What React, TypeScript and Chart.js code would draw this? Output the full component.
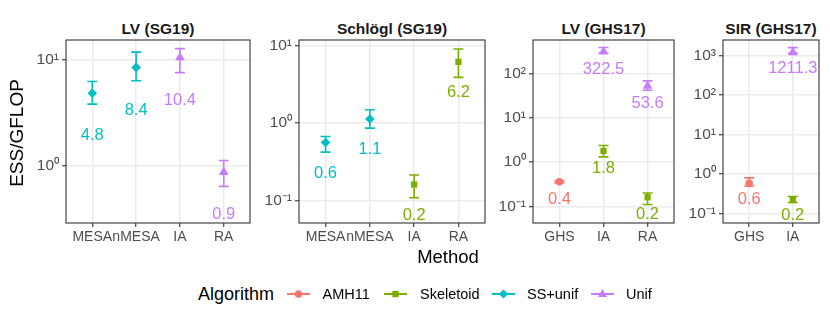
import React, { useEffect, useRef } from "react";
import { Chart, registerables } from "chart.js";
Chart.register(...registerables);

const FONT = '"Liberation Sans", Arial, Helvetica, sans-serif';

// ---------- data ----------
const algorithms = ["AMH11", "Skeletoid", "SS+unif", "Unif"];
const algorithmColors = ["#F8766D", "#7CAE00", "#00BFC4", "#C77CFF"];

// LV (SG19)
const lvSg19Methods = ["MESA", "nMESA", "IA", "RA"];
const lvSg19PointMethod = ["MESA", "nMESA", "IA", "RA"];
const lvSg19PointAlgo = ["SS+unif", "SS+unif", "Unif", "Unif"];
const lvSg19Value = [4.8, 8.4, 10.4, 0.87];
const lvSg19Lo = [3.8, 6.3, 7.5, 0.64];
const lvSg19Hi = [6.2, 11.7, 12.6, 1.12];
const lvSg19YRange = [0.29, 15.2];

// Schlögl (SG19)
const schSg19Methods = ["MESA", "nMESA", "IA", "RA"];
const schSg19PointMethod = ["MESA", "nMESA", "IA", "RA"];
const schSg19PointAlgo = ["SS+unif", "SS+unif", "Skeletoid", "Skeletoid"];
const schSg19Value = [0.56, 1.13, 0.16, 6.2];
const schSg19Lo = [0.42, 0.86, 0.108, 3.9];
const schSg19Hi = [0.67, 1.49, 0.213, 9.1];
const schSg19YRange = [0.0508, 11.9];

// LV (GHS17)
const lvGhs17Methods = ["GHS", "IA", "RA"];
const lvGhs17PointMethod = ["GHS", "IA", "IA", "RA", "RA"];
const lvGhs17PointAlgo = ["AMH11", "Skeletoid", "Unif", "Unif", "Skeletoid"];
const lvGhs17Value = [0.36, 1.8, 322.5, 53.6, 0.16];
const lvGhs17Lo = [0.34, 1.32, 300, 43, 0.11];
const lvGhs17Hi = [0.38, 2.4, 400, 70, 0.2];
const lvGhs17YRange = [0.0417, 593];

// SIR (GHS17)
const sirGhs17Methods = ["GHS", "IA"];
const sirGhs17PointMethod = ["GHS", "IA", "IA"];
const sirGhs17PointAlgo = ["AMH11", "Skeletoid", "Unif"];
const sirGhs17Value = [0.58, 0.22, 1211.3];
const sirGhs17Lo = [0.5, 0.19, 1150];
const sirGhs17Hi = [0.8, 0.27, 1600];
const sirGhs17YRange = [0.0575, 2500];

// ---------- styles ----------
const pointStyles = ["circle", "rect", "rectRot", "triangle"];
const pointRadii = [3.8, 4.4, 4.8, 5.6];

const SUP: Record<string, string> = {
  "-": "\u207B", "0": "\u2070", "1": "\u00B9", "2": "\u00B2", "3": "\u00B3",
  "4": "\u2074", "5": "\u2075", "6": "\u2076", "7": "\u2077", "8": "\u2078", "9": "\u2079",
};
const supText = (n: number) => String(n).split("").map((c) => SUP[c] || c).join("");

const PAD_TOP = 16;
const PAD_RIGHT = 6;
const Y_AXIS_W = 50;
const X_AXIS_H = 30;
const PLOT_TOP = 40;
const PLOT_BOTTOM = 223;

const panelPlugin = {
  id: "panelDecor",
  beforeDatasetsDraw(chart: any) {
    const { ctx } = chart;
    const xs = chart.scales.x;
    const ys = chart.scales.y;
    ctx.save();
    chart.data.datasets.forEach((ds: any) => {
      ctx.strokeStyle = ds.borderColor;
      ctx.lineWidth = 1.6;
      ds.data.forEach((d: any) => {
        const px = xs.getPixelForValue(d.x);
        const yl = ys.getPixelForValue(d.lo);
        const yh = ys.getPixelForValue(d.hi);
        ctx.beginPath();
        ctx.moveTo(px, yl);
        ctx.lineTo(px, yh);
        ctx.moveTo(px - 5, yl);
        ctx.lineTo(px + 5, yl);
        ctx.moveTo(px - 5, yh);
        ctx.lineTo(px + 5, yh);
        ctx.stroke();
      });
    });
    ctx.restore();
  },
  afterDatasetsDraw(chart: any) {
    const { ctx, chartArea } = chart;
    const xs = chart.scales.x;
    const ys = chart.scales.y;
    ctx.save();
    ctx.beginPath();
    ctx.rect(chartArea.left, chartArea.top, chartArea.right - chartArea.left, chartArea.bottom - chartArea.top);
    ctx.clip();
    ctx.font = `16.5px ${FONT}`;
    ctx.textAlign = "center";
    ctx.textBaseline = "middle";
    chart.data.datasets.forEach((ds: any) => {
      ctx.fillStyle = ds.borderColor;
      ds.data.forEach((d: any) => {
        const px = xs.getPixelForValue(d.x);
        const py = ys.getPixelForValue(d.y / Math.pow(10, 0.4));
        ctx.fillText(d.y.toFixed(1), px, py);
      });
    });
    ctx.restore();
    ctx.save();
    ctx.strokeStyle = "#333333";
    ctx.lineWidth = 1.1;
    ctx.strokeRect(chartArea.left, chartArea.top, chartArea.right - chartArea.left, chartArea.bottom - chartArea.top);
    ctx.restore();
  },
};

type PanelProps = {
  title: string;
  plotLeft: number;
  plotRight: number;
  methods: string[];
  pointMethod: string[];
  pointAlgo: string[];
  value: number[];
  lo: number[];
  hi: number[];
  yRange: number[];
};

function Panel(p: PanelProps) {
  const ref = useRef<HTMLCanvasElement | null>(null);
  const width = Y_AXIS_W + (p.plotRight - p.plotLeft) + PAD_RIGHT;
  const height = PAD_TOP + (PLOT_BOTTOM - PLOT_TOP) + X_AXIS_H;
  useEffect(() => {
    if (!ref.current) return;
    const datasets = algorithms
      .map((a, ai) => {
        const data: any[] = [];
        p.pointAlgo.forEach((pa, i) => {
          if (pa === a) {
            data.push({ x: p.methods.indexOf(p.pointMethod[i]), y: p.value[i], lo: p.lo[i], hi: p.hi[i] });
          }
        });
        return {
          label: a,
          data,
          pointStyle: pointStyles[ai],
          pointRadius: pointRadii[ai],
          pointBorderWidth: 0,
          backgroundColor: algorithmColors[ai],
          borderColor: algorithmColors[ai],
          showLine: false,
        };
      })
      .filter((d) => d.data.length > 0);
    const n = p.methods.length;
    const grid = { color: "#EBEBEB", lineWidth: 1.5, tickColor: "#333333", tickLength: 4, tickWidth: 1.1 };
    const chart = new Chart(ref.current, {
      type: "scatter",
      data: { datasets } as any,
      plugins: [panelPlugin],
      options: {
        responsive: false,
        maintainAspectRatio: false,
        animation: false,
        events: [],
        layout: { padding: { top: PAD_TOP, right: PAD_RIGHT, left: 0, bottom: 0 } },
        plugins: { legend: { display: false }, tooltip: { enabled: false }, title: { display: false } },
        scales: {
          x: {
            type: "linear",
            min: -0.6,
            max: n - 0.4,
            afterBuildTicks: (s: any) => {
              s.ticks = p.methods.map((_, i) => ({ value: i }));
            },
            afterFit: (s: any) => {
              s.height = X_AXIS_H;
            },
            ticks: {
              callback: (v: any) => p.methods[Math.round(v)] ?? "",
              color: "#4D4D4D",
              font: { family: FONT, size: 14 },
              padding: 2,
              maxRotation: 0,
              minRotation: 0,
              autoSkip: false,
            },
            grid,
            border: { display: false },
          },
          y: {
            type: "logarithmic",
            min: p.yRange[0],
            max: p.yRange[1],
            afterBuildTicks: (s: any) => {
              const t: any[] = [];
              for (let e = Math.ceil(Math.log10(p.yRange[0])); e <= Math.floor(Math.log10(p.yRange[1])); e++) {
                t.push({ value: Math.pow(10, e), major: true });
              }
              s.ticks = t;
            },
            afterFit: (s: any) => {
              s.width = Y_AXIS_W;
            },
            ticks: {
              callback: (v: any) => "10" + supText(Math.round(Math.log10(v))),
              color: "#4D4D4D",
              font: { family: FONT, size: 15.5 },
              padding: 3,
              autoSkip: false,
            },
            grid,
            border: { display: false },
          },
        },
      } as any,
    });
    return () => chart.destroy();
  }, []);
  return (
    <>
      <div
        style={{
          position: "absolute",
          left: p.plotLeft - 20,
          width: p.plotRight - p.plotLeft + 40,
          top: 18.5,
          height: 19,
          lineHeight: "19px",
          textAlign: "center",
          fontWeight: "bold",
          fontSize: 15.5,
          color: "#1A1A1A",
          whiteSpace: "nowrap",
        }}
      >
        {p.title}
      </div>
      <canvas
        ref={ref}
        width={width}
        height={height}
        style={{
          position: "absolute",
          left: p.plotLeft - Y_AXIS_W,
          top: PLOT_TOP - PAD_TOP,
          width,
          height,
        }}
      />
    </>
  );
}

function LegendIcon({ ai, left }: { ai: number; left: number }) {
  const c = algorithmColors[ai];
  const cx = 11.5;
  const cy = 6;
  let marker: any = null;
  if (ai === 0) marker = <circle cx={cx} cy={cy} r={3.8} fill={c} />;
  if (ai === 1) marker = <rect x={cx - 3.2} y={cy - 3.2} width={6.4} height={6.4} fill={c} />;
  if (ai === 2) marker = <polygon points={`${cx},${cy - 4.6} ${cx + 4.6},${cy} ${cx},${cy + 4.6} ${cx - 4.6},${cy}`} fill={c} />;
  if (ai === 3) marker = <polygon points={`${cx},${cy - 5} ${cx + 4.6},${cy + 3} ${cx - 4.6},${cy + 3}`} fill={c} />;
  return (
    <svg width={23} height={12} style={{ position: "absolute", left, top: 288 }}>
      <line x1={0} y1={cy} x2={23} y2={cy} stroke={c} strokeWidth={2} />
      {marker}
    </svg>
  );
}

const legendIconLeft = [287, 384, 491.5, 591];
const legendTextLeft = [322.5, 420, 527, 626];

export default function App() {
  return (
    <div
      style={{
        position: "absolute",
        left: 0,
        top: 0,
        width: 830,
        height: 320,
        background: "#ffffff",
        fontFamily: FONT,
        overflow: "hidden",
      }}
    >
      <Panel title="LV (SG19)" plotLeft={66} plotRight={250} methods={lvSg19Methods} pointMethod={lvSg19PointMethod}
        pointAlgo={lvSg19PointAlgo} value={lvSg19Value} lo={lvSg19Lo} hi={lvSg19Hi} yRange={lvSg19YRange} />
      <Panel title="Schlögl (SG19)" plotLeft={299} plotRight={485} methods={schSg19Methods} pointMethod={schSg19PointMethod}
        pointAlgo={schSg19PointAlgo} value={schSg19Value} lo={schSg19Lo} hi={schSg19Hi} yRange={schSg19YRange} />
      <Panel title="LV (GHS17)" plotLeft={533} plotRight={674} methods={lvGhs17Methods} pointMethod={lvGhs17PointMethod}
        pointAlgo={lvGhs17PointAlgo} value={lvGhs17Value} lo={lvGhs17Lo} hi={lvGhs17Hi} yRange={lvGhs17YRange} />
      <Panel title="SIR (GHS17)" plotLeft={723} plotRight={819} methods={sirGhs17Methods} pointMethod={sirGhs17PointMethod}
        pointAlgo={sirGhs17PointAlgo} value={sirGhs17Value} lo={sirGhs17Lo} hi={sirGhs17Hi} yRange={sirGhs17YRange} />

      <div
        style={{
          position: "absolute",
          left: 17 - 70,
          top: 133 - 11,
          width: 140,
          height: 22,
          lineHeight: "22px",
          textAlign: "center",
          fontSize: 19,
          color: "#000",
          transform: "rotate(-90deg)",
          whiteSpace: "nowrap",
        }}
      >
        ESS/GFLOP
      </div>
      <div
        style={{
          position: "absolute",
          left: 448 - 60,
          top: 257 - 11,
          width: 120,
          height: 22,
          lineHeight: "22px",
          textAlign: "center",
          fontSize: 18.5,
          color: "#000",
        }}
      >
        Method
      </div>

      <div style={{ position: "absolute", left: 198, top: 294 - 11, height: 22, lineHeight: "22px", fontSize: 18, color: "#000", whiteSpace: "nowrap" }}>
        Algorithm
      </div>
      {algorithms.map((a, ai) => (
        <React.Fragment key={a}>
          <LegendIcon ai={ai} left={legendIconLeft[ai]} />
          <div
            style={{
              position: "absolute",
              left: legendTextLeft[ai],
              top: 294 - 10,
              height: 20,
              lineHeight: "20px",
              fontSize: 14.5,
              color: "#000",
              whiteSpace: "nowrap",
            }}
          >
            {a}
          </div>
        </React.Fragment>
      ))}
    </div>
  );
}
